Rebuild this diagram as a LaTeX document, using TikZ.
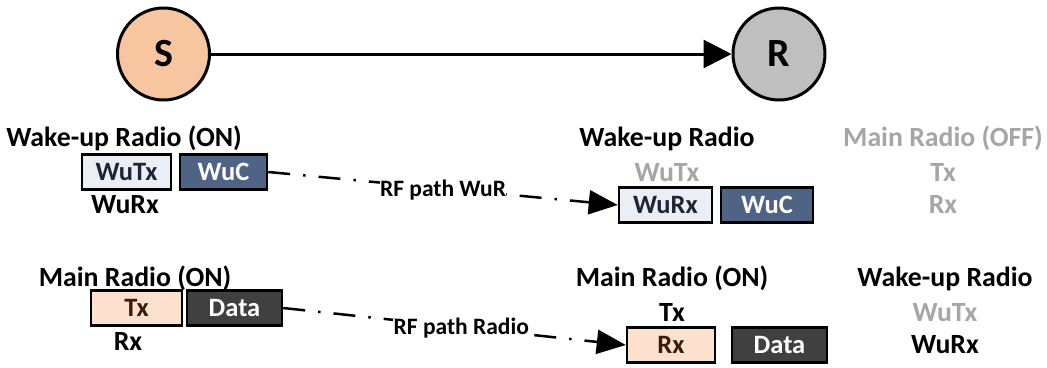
\documentclass[tikz,border=0pt]{standalone}
\usepackage{fontspec}
\setmainfont{Carlito}
\usetikzlibrary{arrows.meta}
\definecolor{peach}{HTML}{F7C59F}
\definecolor{nodegray}{HTML}{BFBFBF}
\definecolor{lightblue}{HTML}{EAEEF5}
\definecolor{slate}{HTML}{4F6384}
\definecolor{lightpeach}{HTML}{FBE1CE}
\definecolor{darkbox}{HTML}{404040}
\definecolor{offtext}{HTML}{A6A6A6}
\definecolor{brown}{HTML}{3A1D08}
\definecolor{navytext}{HTML}{1F2633}
\begin{document}
\begin{tikzpicture}[x=1pt,y=-1pt,
  lbl/.style={font=\fontsize{27.8}{30}\selectfont\bfseries, inner sep=0pt,
    text height=17.9pt, text depth=0pt},
  offlbl/.style={lbl, text=offtext},
  station/.style={circle, draw=black, line width=3pt, minimum size=92pt,
    inner sep=0pt, font=\fontsize{40}{44}\selectfont\bfseries},
  unit/.style={draw=black, line width=2.5pt, minimum height=35pt, inner sep=0pt,
    font=\fontsize{26.5}{28}\selectfont\bfseries, text height=17pt, text depth=0pt},
  wubox/.style={unit, fill=lightblue, text=navytext},
  wucbox/.style={unit, fill=slate, text=white},
  radiobox/.style={unit, fill=lightpeach, text=brown},
  databox/.style={unit, fill=darkbox, text=white},
  rf/.style={line width=2.5pt, dash pattern=on 22pt off 13pt on 2.5pt off 13pt,
    -{Triangle[length=29pt,width=24pt]}},
  rflbl/.style={fill=white, inner sep=0.5pt, font=\fontsize{23.5}{26}\selectfont\bfseries,
    text height=15pt, text depth=0pt}
]
\useasboundingbox (0,0) rectangle (1047,367);

% sender and receiver
\node[station, fill=peach] (S) at (163.5,54) {S};
\node[station, fill=nodegray] (R) at (779,54) {R};
\draw[line width=3pt, -{Triangle[length=28pt,width=28pt]}] (S) -- (R);

% sender: wake-up radio
\node[lbl] (wuS) at (124,138) {Wake-up Radio (ON)};
\node[wubox, minimum width=89pt] (wutxS) at (126.5,172) {WuTx};
\node[wucbox, minimum width=87pt] (wucS) at (223.5,172) {WuC};
\node[lbl] (wurxS) at (125,205) {WuRx};

% receiver: wake-up radio
\node[lbl] (wuR) at (667,138) {Wake-up Radio};
\node[offlbl] (wutxR) at (667,173) {WuTx};
\node[wubox, minimum width=93pt] (wurxR) at (665.5,205) {WuRx};
\node[wucbox, minimum width=92pt] (wucR) at (767,205) {WuC};

% receiver: main radio switched off
\node[offlbl] (mrR1) at (943,138) {Main Radio (OFF)};
\node[offlbl] (txR1) at (943,173) {Tx};
\node[offlbl] (rxR1) at (943,205) {Rx};

% sender: main radio
\node[lbl] (mrS) at (135,278) {Main Radio (ON)};
\node[radiobox, minimum width=91pt] (txS) at (136.5,308) {Tx};
\node[databox, minimum width=95pt] (dataS) at (234.5,308) {Data};
\node[lbl] (rxS) at (128,342) {Rx};

% receiver: main radio
\node[lbl] (mrR) at (672,278) {Main Radio (ON)};
\node[lbl] (txR) at (672,313) {Tx};
\node[radiobox, minimum width=88pt] (rxR) at (671,345) {Rx};
\node[databox, minimum width=95pt] (dataR) at (779.5,345) {Data};

% receiver: wake-up radio during data transfer
\node[lbl] (wuR2) at (945,278) {Wake-up Radio};
\node[offlbl] (wutxR2) at (945,313) {WuTx};
\node[lbl] (wurxR2) at (945,345) {WuRx};

% RF paths
\draw[rf] (wucS.east) -- node[rflbl] {RF path WuR} (wurxR.west);
\draw[rf] (dataS.east) -- node[rflbl, pos=0.52] {RF path Radio} (rxR.west);
\end{tikzpicture}
\end{document}
